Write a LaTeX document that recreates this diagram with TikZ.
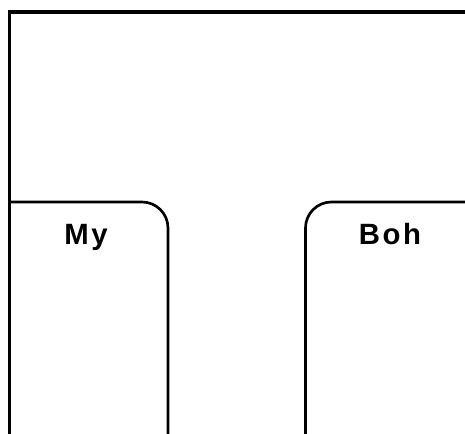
\documentclass[tikz,border=0pt]{standalone}
\usepackage{fontspec}
\setmainfont{Liberation Sans}
\begin{document}
\begin{tikzpicture}[x=0.75pt,y=-0.75pt,
  frame/.style={line width=2.7pt,line join=miter},
  lane/.style={line width=2pt,rounded corners=19.5pt},
  lbl/.style={font=\fontsize{22pt}{24pt}\selectfont\bfseries\addfontfeature{LetterSpace=9},anchor=base,inner sep=0pt}]
\useasboundingbox (0,0) rectangle (465,434);
\clip (0,0) rectangle (465,434);
\fill[white] (0,0) rectangle (465,434);
\draw[frame] (9.5,440) -- (9.5,12) -- (470,12);
\draw[lane] (9.5,202) -- (168,202) -- (168,440);
\draw[lane] (305.5,440) -- (305.5,202) -- (470,202);
\node[lbl] (my) at (86,245) {My};
\node[lbl] (boh) at (390,245) {Boh};
\end{tikzpicture}
\end{document}
